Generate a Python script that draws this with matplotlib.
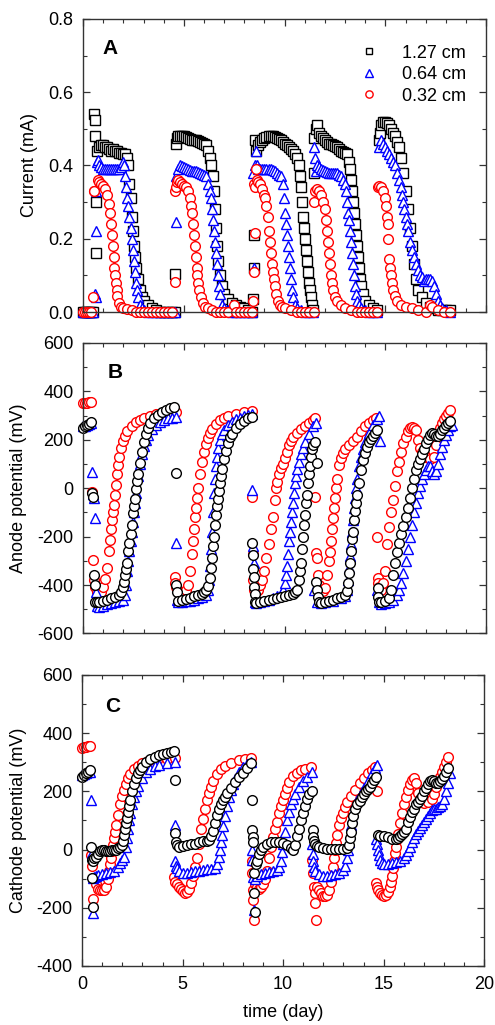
import numpy as np
import matplotlib
matplotlib.use("Agg")
import matplotlib.pyplot as plt
from matplotlib.ticker import MultipleLocator, FormatStrFormatter

plt.rcParams["font.family"] = ["Liberation Sans", "DejaVu Sans"]
plt.rcParams["axes.unicode_minus"] = False

# ── data: (time in days, value) ──────────────────────────────────
LABELS = ["1.27 cm", "0.64 cm", "0.32 cm"]

# Panel A: current (mA)
A_127 = [(0.0,0),(0.1,0),(0.2,0),(0.3,0),(0.4,0),(0.5,0),(0.55,0.54),(0.57,0.525),(0.6,0.48),(0.62,0.30),(0.63,0.16),
         (0.7,0.44),(0.8,0.45),(0.9,0.455),(1.0,0.455),(1.1,0.45),(1.2,0.45),(1.3,0.445),(1.4,0.44),(1.5,0.445),(1.6,0.44),
         (1.7,0.44),(1.8,0.435),(1.9,0.435),(2.0,0.43),(2.1,0.43),(2.2,0.42),(2.25,0.40),(2.3,0.35),(2.35,0.31),(2.4,0.26),
         (2.45,0.22),(2.5,0.18),(2.55,0.15),(2.6,0.12),(2.7,0.09),(2.8,0.06),(2.9,0.04),(3.0,0.03),(3.2,0.02),(3.4,0.01),
         (3.6,0.005),(3.8,0),(4.0,0),(4.2,0),(4.4,0),
         (4.55,0),(4.57,0.105),(4.6,0.46),(4.65,0.475),(4.7,0.48),(4.8,0.48),(4.9,0.48),(5.0,0.48),(5.1,0.478),(5.2,0.475),
         (5.3,0.472),(5.4,0.47),(5.5,0.47),(5.6,0.47),(5.7,0.468),(5.8,0.465),(5.9,0.462),(6.0,0.46),(6.1,0.455),(6.2,0.44),
         (6.3,0.42),(6.35,0.40),(6.45,0.37),(6.5,0.33),(6.55,0.28),(6.6,0.23),(6.65,0.18),(6.7,0.14),(6.8,0.10),(6.9,0.07),
         (7.0,0.05),(7.2,0.035),(7.4,0.025),(7.6,0.02),(7.8,0.015),(8.0,0.01),(8.2,0.005),(8.4,0),
         (8.45,0.035),(8.47,0.12),(8.5,0.21),(8.52,0.47),(8.6,0.44),(8.7,0.455),(8.8,0.465),(8.9,0.47),(9.0,0.475),(9.1,0.478),
         (9.2,0.48),(9.3,0.48),(9.4,0.48),(9.5,0.478),(9.6,0.475),(9.7,0.472),(9.8,0.47),(9.9,0.465),(10.0,0.46),(10.1,0.455),
         (10.2,0.45),(10.3,0.445),(10.4,0.44),(10.5,0.43),(10.6,0.42),(10.7,0.40),(10.75,0.37),(10.8,0.34),(10.85,0.30),
         (10.9,0.26),(10.95,0.23),(11.0,0.20),(11.05,0.17),(11.1,0.14),(11.15,0.11),(11.2,0.08),(11.25,0.06),(11.3,0.04),
         (11.35,0.02),(11.4,0.005),
         (11.45,0.38),(11.47,0.475),(11.55,0.50),(11.6,0.51),(11.7,0.49),(11.8,0.48),(11.9,0.475),(12.0,0.47),(12.1,0.465),
         (12.2,0.46),(12.3,0.458),(12.4,0.455),(12.5,0.452),(12.6,0.45),(12.7,0.445),(12.8,0.44),(12.9,0.438),(13.0,0.435),
         (13.1,0.43),(13.2,0.41),(13.25,0.39),(13.3,0.36),(13.35,0.33),(13.4,0.30),(13.45,0.27),(13.5,0.24),(13.55,0.21),
         (13.6,0.18),(13.65,0.15),(13.7,0.12),(13.75,0.09),(13.8,0.07),(13.9,0.05),(14.0,0.03),(14.2,0.02),(14.4,0.01),
         (14.6,0.005),
         (14.7,0.47),(14.75,0.49),(14.8,0.51),(14.9,0.52),(15.0,0.52),(15.1,0.515),(15.2,0.51),(15.3,0.50),(15.4,0.49),
         (15.5,0.48),(15.6,0.465),(15.7,0.45),(15.8,0.42),(15.9,0.38),(16.0,0.33),(16.1,0.28),(16.2,0.23),(16.3,0.18),
         (16.4,0.13),(16.5,0.09),(16.6,0.06),(16.8,0.04),(17.0,0.025),(17.2,0.015),(17.4,0.01),(17.6,0.005),(17.8,0.005),
         (18.0,0.005),(18.2,0.005)]

A_064 = [(0.0,0),(0.1,0),(0.2,0),(0.3,0),(0.4,0),(0.5,0),(0.6,0.05),(0.62,0.04),(0.63,0.22),(0.65,0.33),(0.68,0.41),
         (0.75,0.415),(0.8,0.40),(0.9,0.395),(1.0,0.39),(1.1,0.39),(1.2,0.39),(1.3,0.39),(1.4,0.39),(1.5,0.39),(1.6,0.39),
         (1.7,0.39),(1.8,0.39),(1.9,0.395),(2.0,0.41),(2.05,0.40),(2.1,0.37),(2.15,0.34),(2.2,0.31),(2.25,0.29),(2.3,0.26),
         (2.35,0.23),(2.4,0.20),(2.45,0.17),(2.5,0.14),(2.55,0.11),(2.6,0.08),(2.65,0.06),(2.7,0.04),(2.8,0.02),(2.9,0.01),
         (3.0,0.005),(3.2,0),(3.4,0),(3.6,0),(3.8,0),(4.0,0),(4.2,0),(4.4,0),
         (4.55,0),(4.6,0.246),(4.62,0.37),(4.7,0.39),(4.8,0.40),(4.9,0.398),(5.0,0.395),(5.1,0.392),(5.2,0.39),(5.3,0.388),
         (5.4,0.385),(5.5,0.385),(5.6,0.385),(5.7,0.383),(5.8,0.38),(5.9,0.378),(6.0,0.375),(6.1,0.37),(6.2,0.35),(6.3,0.33),
         (6.35,0.31),(6.4,0.28),(6.45,0.25),(6.5,0.22),(6.55,0.19),(6.6,0.16),(6.65,0.13),(6.7,0.10),(6.75,0.07),(6.8,0.05),
         (6.9,0.02),(7.0,0.01),(7.2,0.005),(7.4,0),(7.6,0),(7.8,0),(8.0,0),(8.2,0),(8.4,0),
         (8.45,0.38),(8.5,0.12),(8.55,0.40),(8.6,0.44),(8.65,0.40),(8.7,0.39),(8.8,0.39),(8.9,0.39),(9.0,0.39),(9.1,0.39),
         (9.2,0.39),(9.3,0.39),(9.4,0.388),(9.5,0.385),(9.6,0.38),(9.7,0.375),(9.8,0.37),(9.9,0.35),(9.95,0.31),(10.0,0.27),
         (10.05,0.24),(10.1,0.21),(10.15,0.18),(10.2,0.15),(10.25,0.12),(10.3,0.09),(10.35,0.06),(10.4,0.04),(10.5,0.02),
         (10.6,0.01),(10.8,0.005),(11.0,0),(11.2,0),(11.4,0),
         (11.45,0.45),(11.5,0.42),(11.55,0.385),(11.6,0.40),(11.7,0.395),(11.8,0.39),(11.9,0.388),(12.0,0.385),(12.1,0.383),
         (12.2,0.38),(12.3,0.38),(12.4,0.38),(12.5,0.38),(12.6,0.38),(12.7,0.375),(12.8,0.37),(12.9,0.36),(13.0,0.35),
         (13.05,0.33),(13.1,0.30),(13.15,0.27),(13.2,0.25),(13.25,0.22),(13.3,0.19),(13.35,0.16),(13.4,0.13),(13.45,0.10),
         (13.5,0.07),(13.55,0.05),(13.6,0.03),(13.7,0.02),(13.8,0.01),(14.0,0.005),(14.2,0),(14.4,0),(14.6,0),
         (14.7,0.45),(14.8,0.47),(14.9,0.46),(15.0,0.45),(15.1,0.44),(15.2,0.43),(15.3,0.42),(15.4,0.41),(15.5,0.40),
         (15.6,0.38),(15.7,0.36),(15.8,0.34),(15.85,0.32),(15.9,0.30),(15.95,0.28),(16.0,0.26),(16.05,0.24),(16.1,0.22),
         (16.2,0.19),(16.3,0.17),(16.4,0.15),(16.5,0.13),(16.6,0.115),(16.7,0.10),(16.8,0.095),(16.9,0.085),(17.0,0.09),
         (17.1,0.09),(17.2,0.09),(17.3,0.085),(17.4,0.07),(17.5,0.05),(17.6,0.03),(17.7,0.02),(17.8,0.01),(18.0,0.005),
         (18.2,0)]

A_032 = [(0.0,0),(0.1,0),(0.2,0),(0.3,0),(0.4,0),(0.5,0.04),(0.52,0.33),(0.55,0.33),(0.75,0.36),(0.8,0.355),(0.9,0.35),
         (1.0,0.345),(1.1,0.335),(1.2,0.32),(1.3,0.295),(1.35,0.27),(1.4,0.24),(1.45,0.21),(1.5,0.18),(1.52,0.15),(1.55,0.12),
         (1.58,0.10),(1.62,0.08),(1.66,0.06),(1.7,0.045),(1.8,0.025),(1.9,0.015),(2.0,0.01),(2.2,0.008),(2.4,0.005),(2.6,0),
         (2.8,0),(3.0,0),(3.2,0),(3.4,0),(3.6,0),(3.8,0),(4.0,0),(4.2,0),(4.4,0),
         (4.55,0.082),(4.58,0.33),(4.6,0.34),(4.65,0.355),(4.7,0.36),(4.8,0.355),(4.9,0.35),(5.0,0.345),(5.1,0.34),(5.2,0.33),
         (5.3,0.31),(5.35,0.29),(5.4,0.27),(5.45,0.24),(5.5,0.21),(5.55,0.18),(5.6,0.15),(5.63,0.12),(5.66,0.10),(5.7,0.08),
         (5.75,0.06),(5.85,0.04),(5.95,0.025),(6.05,0.015),(6.2,0.01),(6.4,0.005),(6.6,0),(6.8,0),(7.0,0),(7.2,0),(7.5,0.018),
         (7.6,0),(7.8,0),(8.0,0),(8.2,0),(8.4,0),
         (8.45,0.03),(8.47,0.11),(8.5,0.35),(8.52,0.215),(8.55,0.34),(8.6,0.39),(8.65,0.36),(8.7,0.355),(8.8,0.35),(8.9,0.335),
         (9.0,0.32),(9.05,0.31),(9.1,0.29),(9.15,0.26),(9.2,0.22),(9.25,0.19),(9.3,0.16),(9.35,0.13),(9.4,0.11),(9.45,0.09),
         (9.5,0.07),(9.55,0.05),(9.65,0.03),(9.75,0.02),(9.85,0.015),(10.0,0.01),(10.3,0.005),(10.6,0),(10.8,0),(11.0,0),
         (11.2,0),(11.45,0),
         (11.47,0.30),(11.5,0.33),(11.6,0.335),(11.7,0.33),(11.8,0.32),(11.9,0.30),(12.0,0.28),(12.05,0.25),(12.1,0.22),
         (12.15,0.19),(12.2,0.16),(12.25,0.13),(12.3,0.10),(12.35,0.08),(12.4,0.06),(12.5,0.04),(12.6,0.03),(12.8,0.02),
         (13.0,0.01),(13.3,0.005),(13.6,0),(13.8,0),(14.0,0),(14.2,0),(14.4,0),(14.6,0),
         (14.62,0.34),(14.7,0.345),(14.8,0.34),(14.9,0.33),(15.0,0.31),(15.05,0.29),(15.1,0.26),(15.12,0.24),(15.15,0.20),
         (15.2,0.145),(15.25,0.12),(15.3,0.10),(15.35,0.08),(15.4,0.06),(15.5,0.045),(15.6,0.03),(15.8,0.02),(16.0,0.015),
         (16.3,0.01),(16.6,0.005),(17.0,0),(17.2,0.02),(17.3,0.015),(17.6,0.005),(17.9,0),(18.2,0)]

# Panel B: anode potential (mV)
B_127 = [(0.0,250),(0.1,256),(0.2,262),(0.3,267),(0.4,272),(0.45,-20),(0.47,-35),(0.55,-360),(0.58,-400),(0.6,-470),
         (0.7,-472),(0.8,-470),(1.0,-465),(1.2,-460),(1.4,-455),(1.6,-450),(1.8,-440),(1.9,-430),(2.0,-410),(2.05,-387),
         (2.1,-360),(2.15,-335),(2.2,-311),(2.25,-260),(2.3,-228),(2.35,-190),(2.4,-150),(2.45,-104),(2.5,-75),(2.55,-45),
         (2.6,-5),(2.65,30),(2.7,60),(2.8,105),(2.9,150),(3.0,190),(3.1,225),(3.2,250),(3.3,268),(3.5,290),(3.7,303),
         (3.9,313),(4.1,322),(4.3,330),(4.5,335),
         (4.6,63),(4.62,-400),(4.65,-430),(4.7,-465),(4.9,-462),(5.1,-458),(5.3,-452),(5.5,-447),(5.7,-442),(5.9,-435),
         (6.0,-430),(6.1,-420),(6.2,-405),(6.3,-370),(6.35,-330),(6.4,-290),(6.45,-240),(6.5,-200),(6.55,-150),(6.6,-110),
         (6.65,-75),(6.7,-45),(6.75,-10),(6.8,20),(6.85,50),(6.9,80),(7.0,120),(7.1,155),(7.2,185),(7.3,210),(7.4,225),
         (7.6,250),(7.8,265),(8.0,278),(8.2,288),(8.4,295),
         (8.4,-228),(8.42,-277),(8.45,-332),(8.47,-366),(8.5,-407),(8.52,-435),(8.55,-470),(8.6,-475),(8.8,-470),(9.0,-465),
         (9.2,-462),(9.4,-458),(9.6,-455),(9.8,-450),(10.0,-445),(10.2,-440),(10.4,-435),(10.5,-428),(10.6,-420),(10.7,-380),
         (10.75,-340),(10.8,-310),(10.85,-250),(10.9,-200),(10.95,-150),(11.0,-110),(11.05,-60),(11.1,-30),(11.15,20),
         (11.2,60),(11.25,90),(11.3,130),(11.35,160),(11.4,180),(11.5,192),
         (11.55,-387),(11.6,105),(11.62,-420),(11.65,-450),(11.7,-470),(11.8,-475),(12.0,-470),(12.2,-465),(12.4,-460),
         (12.6,-455),(12.8,-448),(13.0,-440),(13.1,-425),(13.15,-390),(13.2,-350),(13.25,-310),(13.3,-260),(13.35,-210),
         (13.4,-180),(13.45,-130),(13.5,-95),(13.55,-60),(13.6,-30),(13.7,20),(13.8,75),(13.9,115),(14.0,145),(14.1,170),
         (14.2,190),(14.3,205),(14.4,215),(14.5,228),(14.6,240),
         (14.62,-414),(14.65,-449),(14.7,-470),(14.8,-472),(15.0,-468),(15.2,-455),(15.3,-420),(15.4,-360),(15.5,-310),
         (15.6,-265),(15.7,-225),(15.8,-190),(15.9,-155),(16.0,-120),(16.1,-80),(16.2,-40),(16.3,0),(16.4,40),(16.5,75),
         (16.6,100),(16.7,120),(16.8,140),(16.9,160),(17.0,185),(17.1,205),(17.2,220),(17.3,228),(17.4,225),(17.5,215),
         (17.6,215),(17.7,225),(17.8,240),(17.9,250),(18.0,260),(18.1,270),(18.2,278)]

B_064 = [(0.0,255),(0.1,258),(0.2,262),(0.3,265),(0.4,268),(0.45,65),(0.5,-22),(0.55,-40),(0.6,-125),(0.62,-430),
         (0.7,-485),(0.8,-490),(1.0,-485),(1.2,-480),(1.4,-475),(1.6,-470),(1.8,-465),(2.0,-460),(2.1,-440),(2.15,-400),
         (2.2,-340),(2.25,-300),(2.3,-260),(2.35,-220),(2.4,-180),(2.45,-140),(2.5,-100),(2.55,-60),(2.6,-20),(2.7,50),
         (2.8,100),(2.9,140),(3.0,175),(3.1,200),(3.2,220),(3.4,245),(3.6,262),(3.8,275),(4.0,283),(4.2,288),(4.4,292),
         (4.6,295),
         (4.6,-228),(4.65,-460),(4.7,-470),(4.9,-470),(5.1,-468),(5.3,-465),(5.5,-460),(5.7,-455),(5.9,-450),(6.1,-440),
         (6.2,-420),(6.25,-380),(6.3,-320),(6.35,-250),(6.4,-180),(6.45,-100),(6.5,-20),(6.55,40),(6.6,90),(6.65,130),
         (6.7,165),(6.8,200),(6.9,225),(7.0,240),(7.2,260),(7.4,275),(7.6,285),(7.8,292),(8.0,298),(8.2,303),(8.4,308),
         (8.4,-8),(8.45,-240),(8.5,-310),(8.55,-470),(8.6,-476),(8.8,-470),(9.0,-465),(9.2,-460),(9.4,-455),(9.6,-445),
         (9.8,-435),(9.9,-420),(10.0,-390),(10.05,-360),(10.1,-320),(10.15,-270),(10.2,-220),(10.25,-180),(10.3,-140),
         (10.35,-100),(10.4,-60),(10.45,-20),(10.5,20),(10.55,50),(10.6,80),(10.7,110),(10.8,140),(10.9,165),(11.0,190),
         (11.2,225),(11.4,255),(11.55,270),
         (11.45,-420),(11.6,-470),(11.8,-475),(12.0,-470),(12.4,-465),(12.8,-455),(13.0,-445),(13.1,-420),(13.15,-380),
         (13.2,-330),(13.25,-280),(13.3,-230),(13.35,-180),(13.4,-130),(13.45,-80),(13.5,-40),(13.55,0),(13.6,40),(13.7,90),
         (13.8,130),(13.9,160),(14.0,190),(14.2,230),(14.4,260),(14.6,285),(14.7,300),(14.72,195),
         (14.6,-420),(14.7,-470),(14.8,-478),(15.0,-475),(15.2,-470),(15.4,-460),(15.6,-440),(15.7,-420),(15.8,-390),
         (15.9,-350),(16.0,-300),(16.1,-250),(16.2,-200),(16.3,-150),(16.4,-100),(16.5,-60),(16.6,-20),(16.7,10),(16.8,40),
         (16.9,60),(17.0,75),(17.1,90),(17.2,90),(17.3,70),(17.4,60),(17.5,70),(17.6,100),(17.7,140),(17.8,170),(17.9,200),
         (18.0,220),(18.1,240),(18.2,255),(18.3,262)]

B_032 = [(0.0,350),(0.1,352),(0.2,354),(0.3,355),(0.4,357),(0.45,-15),(0.5,-297),(0.55,-380),(0.6,-410),(0.7,-430),
         (0.8,-435),(0.9,-430),(1.0,-410),(1.1,-375),(1.2,-330),(1.3,-260),(1.35,-215),(1.4,-170),(1.45,-130),(1.5,-100),
         (1.55,-70),(1.6,-30),(1.65,15),(1.7,60),(1.75,95),(1.8,130),(1.9,165),(2.0,195),(2.1,215),(2.2,235),(2.4,258),
         (2.6,272),(2.8,283),(3.0,290),(3.3,300),(3.6,307),(4.0,312),(4.4,315),(4.6,316),
         (4.55,-366),(4.58,-393),(4.6,-410),(4.7,-425),(4.8,-432),(4.9,-435),(5.0,-430),(5.1,-420),(5.2,-400),(5.3,-340),
         (5.4,-270),(5.45,-220),(5.5,-170),(5.55,-120),(5.6,-80),(5.65,-40),(5.7,0),(5.8,60),(5.9,110),(6.0,150),(6.1,182),
         (6.2,208),(6.3,228),(6.4,245),(6.6,266),(6.8,282),(7.0,292),(7.2,300),(7.6,308),(8.0,314),(8.4,318),
         (8.4,-36),(8.42,-270),(8.45,-380),(8.5,-420),(8.6,-430),(8.7,-420),(8.8,-400),(8.9,-380),(9.0,-340),(9.1,-290),
         (9.2,-230),(9.3,-170),(9.4,-118),(9.5,-50),(9.55,0),(9.6,25),(9.7,60),(9.8,85),(9.9,102),(10.0,125),(10.1,150),
         (10.2,178),(10.3,195),(10.4,212),(10.6,230),(10.8,245),(11.0,258),(11.2,270),(11.4,282),(11.5,290),
         (11.5,-35),(11.55,-267),(11.6,-288),(11.65,-358),(11.7,-400),(11.8,-420),(11.9,-425),(12.0,-412),(12.1,-360),
         (12.2,-300),(12.25,-262),(12.3,-220),(12.35,-170),(12.4,-124),(12.45,-80),(12.5,-40),(12.55,0),(12.6,40),(12.7,95),
         (12.8,125),(12.9,145),(13.0,160),(13.2,180),(13.4,195),(13.6,210),(13.8,235),(14.0,255),(14.2,270),(14.4,282),
         (14.55,290),
         (14.6,-201),(14.62,-373),(14.65,-393),(14.7,-410),(14.8,-420),(14.9,-390),(15.0,-340),(15.1,-230),(15.2,-160),
         (15.3,-100),(15.4,-50),(15.5,10),(15.6,70),(15.7,110),(15.8,150),(15.9,185),(16.0,210),(16.1,235),(16.2,248),
         (16.3,252),(16.4,250),(16.5,240),(16.6,200),(16.7,165),(16.8,150),(16.9,140),(17.0,130),(17.2,120),(17.4,130),
         (17.5,180),(17.6,220),(17.7,250),(17.8,270),(17.9,285),(18.0,300),(18.1,312),(18.2,322)]

# Panel C: cathode potential (mV)
C_127 = [(0.0,250),(0.1,256),(0.2,262),(0.3,268),(0.4,272),(0.45,10),(0.47,-36),(0.5,-99),(0.52,-196),(0.55,-40),
         (0.6,-30),(0.7,-25),(0.8,-15),(0.9,-5),(1.0,0),(1.1,0),(1.2,-5),(1.3,-5),(1.4,-5),(1.5,0),(1.6,0),(1.7,0),(1.8,5),
         (1.9,8),(2.0,15),(2.05,30),(2.1,50),(2.15,70),(2.2,90),(2.25,110),(2.3,130),(2.35,150),(2.4,170),(2.5,200),
         (2.6,225),(2.7,245),(2.8,262),(2.9,275),(3.0,285),(3.2,300),(3.4,310),(3.6,318),(3.8,324),(4.0,328),(4.2,332),
         (4.4,335),(4.55,338),
         (4.6,239),(4.62,56),(4.65,27),(4.7,15),(4.8,10),(5.0,12),(5.2,15),(5.4,18),(5.6,20),(5.8,25),(6.0,28),(6.2,30),
         (6.3,32),(6.4,45),(6.5,65),(6.6,90),(6.7,118),(6.8,140),(6.9,155),(7.0,170),(7.1,182),(7.2,195),(7.4,212),
         (7.6,232),(7.8,248),(8.0,262),(8.2,280),(8.4,296),
         (8.45,170),(8.47,67),(8.5,44),(8.52,27),(8.55,-82),(8.57,-150),(8.6,-213),(8.65,-50),(8.7,-40),(8.8,-15),(8.9,0),
         (9.0,10),(9.2,20),(9.4,25),(9.6,27),(9.8,27),(10.0,22),(10.2,15),(10.4,5),(10.5,0),(10.6,15),(10.7,45),(10.8,70),
         (10.9,100),(11.0,125),(11.1,150),(11.2,175),(11.3,190),(11.45,200),
         (11.47,67),(11.5,44),(11.55,30),(11.6,20),(11.7,12),(11.8,8),(12.0,5),(12.2,3),(12.4,2),(12.6,2),(12.8,3),(13.0,3),
         (13.2,5),(13.3,15),(13.35,40),(13.4,60),(13.45,90),(13.5,115),(13.6,138),(13.7,155),(13.8,168),(13.9,180),
         (14.0,190),(14.1,200),(14.2,208),(14.3,216),(14.4,228),(14.5,240),(14.6,250),
         (14.7,50),(14.8,48),(15.0,45),(15.2,42),(15.4,38),(15.6,35),(15.7,40),(15.8,45),(15.9,52),(16.0,60),(16.1,72),
         (16.2,95),(16.3,113),(16.4,128),(16.5,140),(16.6,155),(16.7,165),(16.8,175),(16.9,185),(17.0,200),(17.1,212),
         (17.2,225),(17.3,235),(17.4,240),(17.5,235),(17.6,228),(17.7,230),(17.8,236),(17.9,242),(18.0,252),(18.1,265),
         (18.2,279)]

C_064 = [(0.0,255),(0.1,258),(0.2,262),(0.3,265),(0.4,268),(0.45,170),(0.5,-13),(0.52,-99),(0.55,-219),(0.6,-95),
         (0.7,-90),(0.8,-88),(1.0,-85),(1.2,-82),(1.4,-78),(1.6,-72),(1.8,-60),(1.9,-45),(2.0,-35),(2.1,-24),(2.2,10),
         (2.25,40),(2.3,70),(2.35,100),(2.4,125),(2.5,155),(2.6,180),(2.7,200),(2.8,220),(3.0,245),(3.2,265),(3.4,278),
         (3.6,287),(3.8,292),(4.2,298),(4.6,300),
         (4.6,85),(4.62,-40),(4.65,-55),(4.7,-65),(4.8,-75),(5.0,-80),(5.2,-80),(5.4,-78),(5.6,-75),(5.8,-72),(6.0,-70),
         (6.2,-68),(6.4,-66),(6.6,-65),(6.7,-50),(6.8,-25),(6.85,0),(6.9,25),(6.95,50),(7.0,80),(7.1,115),(7.2,150),
         (7.3,180),(7.4,205),(7.5,225),(7.6,242),(7.8,265),(8.0,282),(8.2,295),(8.4,302),
         (8.45,0),(8.47,-36),(8.5,-93),(8.55,-208),(8.6,-100),(8.7,-90),(8.9,-85),(9.1,-80),(9.3,-78),(9.5,-75),(9.7,-70),
         (9.8,-60),(9.9,-40),(9.95,-10),(10.0,20),(10.1,60),(10.2,100),(10.3,130),(10.4,155),(10.5,175),(10.6,190),
         (10.8,215),(11.0,235),(11.2,250),(11.45,265),
         (11.45,20),(11.48,-15),(11.5,-40),(11.55,-60),(11.6,-75),(11.8,-85),(12.0,-90),(12.2,-90),(12.4,-88),(12.6,-85),
         (12.8,-80),(13.0,-70),(13.1,-55),(13.2,-30),(13.25,0),(13.3,25),(13.35,55),(13.4,85),(13.45,110),(13.5,130),
         (13.6,155),(13.7,172),(13.8,185),(13.9,198),(14.0,210),(14.2,235),(14.4,262),(14.55,280),(14.65,292),
         (14.62,35),(14.65,20),(14.7,0),(14.75,-20),(14.8,-35),(14.9,-45),(15.0,-50),(15.2,-48),(15.4,-45),(15.6,-42),
         (15.8,-38),(16.0,-30),(16.1,-20),(16.2,-5),(16.3,10),(16.4,25),(16.5,40),(16.6,55),(16.7,65),(16.8,75),(16.9,85),
         (17.0,95),(17.1,105),(17.2,115),(17.3,125),(17.4,135),(17.5,140),(17.6,140),(17.7,145),(17.8,150),(17.9,155),
         (18.0,175),(18.1,200),(18.2,230),(18.3,262)]

C_032 = [(0.0,350),(0.1,352),(0.2,354),(0.3,355),(0.4,357),(0.45,-20),(0.5,-58),(0.55,-171),(0.6,-100),(0.7,-120),
         (0.8,-135),(0.9,-140),(1.0,-140),(1.1,-138),(1.2,-130),(1.3,-100),(1.35,-75),(1.4,-50),(1.45,-30),(1.5,-5),
         (1.55,15),(1.6,40),(1.65,60),(1.7,85),(1.8,120),(1.9,155),(2.0,185),(2.1,205),(2.2,225),(2.3,245),(2.4,260),
         (2.6,276),(2.8,288),(3.0,296),(3.3,303),(3.7,308),(4.2,311),(4.6,314),
         (4.55,-95),(4.6,-110),(4.7,-120),(4.8,-128),(4.9,-135),(5.0,-142),(5.1,-150),(5.2,-145),(5.3,-135),(5.4,-115),
         (5.5,-90),(5.6,-60),(5.7,-30),(5.8,20),(5.9,70),(6.0,105),(6.1,140),(6.2,170),(6.3,195),(6.4,215),(6.5,235),
         (6.7,258),(6.9,276),(7.1,287),(7.4,297),(7.8,307),(8.1,311),(8.4,314),
         (8.45,-40),(8.47,-80),(8.5,-140),(8.52,-173),(8.55,-242),(8.6,-120),(8.7,-130),(8.8,-135),(8.9,-130),(9.0,-120),
         (9.1,-100),(9.2,-75),(9.3,-30),(9.4,10),(9.5,44),(9.6,70),(9.7,95),(9.8,125),(9.9,150),(10.0,170),(10.1,190),
         (10.2,210),(10.3,232),(10.5,252),(10.7,263),(10.9,272),(11.1,278),(11.4,285),
         (11.45,-36),(11.5,-80),(11.55,-127),(11.58,-150),(11.6,-185),(11.65,-242),(11.7,-130),(11.8,-140),(11.9,-150),
         (12.0,-158),(12.1,-160),(12.2,-155),(12.3,-140),(12.4,-110),(12.5,-60),(12.55,-30),(12.6,0),(12.65,21),(12.7,50),
         (12.8,85),(12.9,108),(13.0,125),(13.1,145),(13.2,162),(13.4,185),(13.6,205),(13.8,228),(14.0,245),(14.2,262),
         (14.4,275),(14.55,285),(14.65,200),
         (14.62,-115),(14.65,-130),(14.7,-140),(14.8,-150),(14.9,-155),(15.0,-158),(15.1,-155),(15.2,-145),(15.3,-130),
         (15.35,-110),(15.4,-90),(15.45,-65),(15.5,-40),(15.55,-13),(15.6,10),(15.65,35),(15.7,55),(15.8,90),(15.9,125),
         (16.0,155),(16.1,180),(16.2,205),(16.3,225),(16.4,240),(16.5,245),(16.6,230),(16.7,195),(16.8,175),(16.9,165),
         (17.0,160),(17.2,165),(17.4,175),(17.5,190),(17.6,215),(17.7,235),(17.8,250),(17.9,268),(18.0,283),(18.1,300),
         (18.2,319)]

# ── style ─────────────────────────────────────────────────────
FS = 13
RED, BLUE, BLACK = "#ff0000", "#0000ff", "#000000"


def draw(ax, pts, marker, color, ms, label=None):
    arr = np.array(pts, dtype=float)
    ax.plot(arr[:, 0], arr[:, 1], linestyle="none", marker=marker, ms=ms,
            mfc="white", mec=color, mew=1.0, clip_on=False, label=label)


def style_axes(ax, ymin, ymax, ymajor, yminor, xlabels):
    ax.set_xlim(0, 20)
    ax.set_ylim(ymin, ymax)
    ax.xaxis.set_major_locator(MultipleLocator(5))
    ax.xaxis.set_minor_locator(MultipleLocator(1))
    ax.yaxis.set_major_locator(MultipleLocator(ymajor))
    ax.yaxis.set_minor_locator(MultipleLocator(yminor))
    ax.tick_params(which="both", direction="in", top=True, right=True,
                   labelsize=FS, color="#333333", pad=7)
    ax.tick_params(which="major", length=5, width=0.9)
    ax.tick_params(which="minor", length=3, width=0.8)
    if not xlabels:
        ax.tick_params(labelbottom=False)
    for s in ax.spines.values():
        s.set_linewidth(1.0)
        s.set_color("#333333")


fig = plt.figure(figsize=(4.95, 10.25), dpi=100)

# ── A: current ────────────────────────────────────────────────
axA = fig.add_axes([0.168, 0.6956, 0.814, 0.2859])
draw(axA, A_127, "s", BLACK, 6.5, LABELS[0])
draw(axA, A_064, "^", BLUE, 7, LABELS[1])
draw(axA, A_032, "o", RED, 7, LABELS[2])
style_axes(axA, 0, 0.8, 0.2, 0.1, False)
axA.yaxis.set_major_formatter(FormatStrFormatter("%.1f"))
axA.set_ylabel("Current (mA)", fontsize=FS)
axA.yaxis.set_label_coords(-0.112, 0.5)
axA.text(0.067, 0.9, "A", transform=axA.transAxes, fontsize=15,
         fontweight="bold", ha="center", va="center")
axA.legend(loc="upper left", bbox_to_anchor=(0.687, 0.912), frameon=False,
           fontsize=FS, numpoints=1, markerscale=0.75, handlelength=1.0,
           handletextpad=1.3, labelspacing=0.25, borderaxespad=0, borderpad=0)

# ── B: anode potential ────────────────────────────────────────
axB = fig.add_axes([0.168, 0.382, 0.814, 0.2834])
draw(axB, B_032, "o", RED, 7)
draw(axB, B_064, "^", BLUE, 7)
draw(axB, B_127, "o", BLACK, 7)
style_axes(axB, -600, 600, 200, 100, False)
axB.set_ylabel("Anode potential (mV)", fontsize=FS)
axB.yaxis.set_label_coords(-0.139, 0.5)
axB.text(0.079, 0.9, "B", transform=axB.transAxes, fontsize=15,
         fontweight="bold", ha="center", va="center")

# ── C: cathode potential ──────────────────────────────────────
axC = fig.add_axes([0.166, 0.0576, 0.812, 0.2839])
draw(axC, C_032, "o", RED, 7)
draw(axC, C_064, "^", BLUE, 7)
draw(axC, C_127, "o", BLACK, 7)
style_axes(axC, -400, 600, 200, 100, True)
axC.set_ylabel("Cathode potential (mV)", fontsize=FS)
axC.yaxis.set_label_coords(-0.137, 0.5)
axC.set_xlabel("time (day)", fontsize=FS, labelpad=8)
axC.text(0.077, 0.89, "C", transform=axC.transAxes, fontsize=15,
         fontweight="bold", ha="center", va="center")

fig.savefig("out.png", dpi=100, facecolor="white")
